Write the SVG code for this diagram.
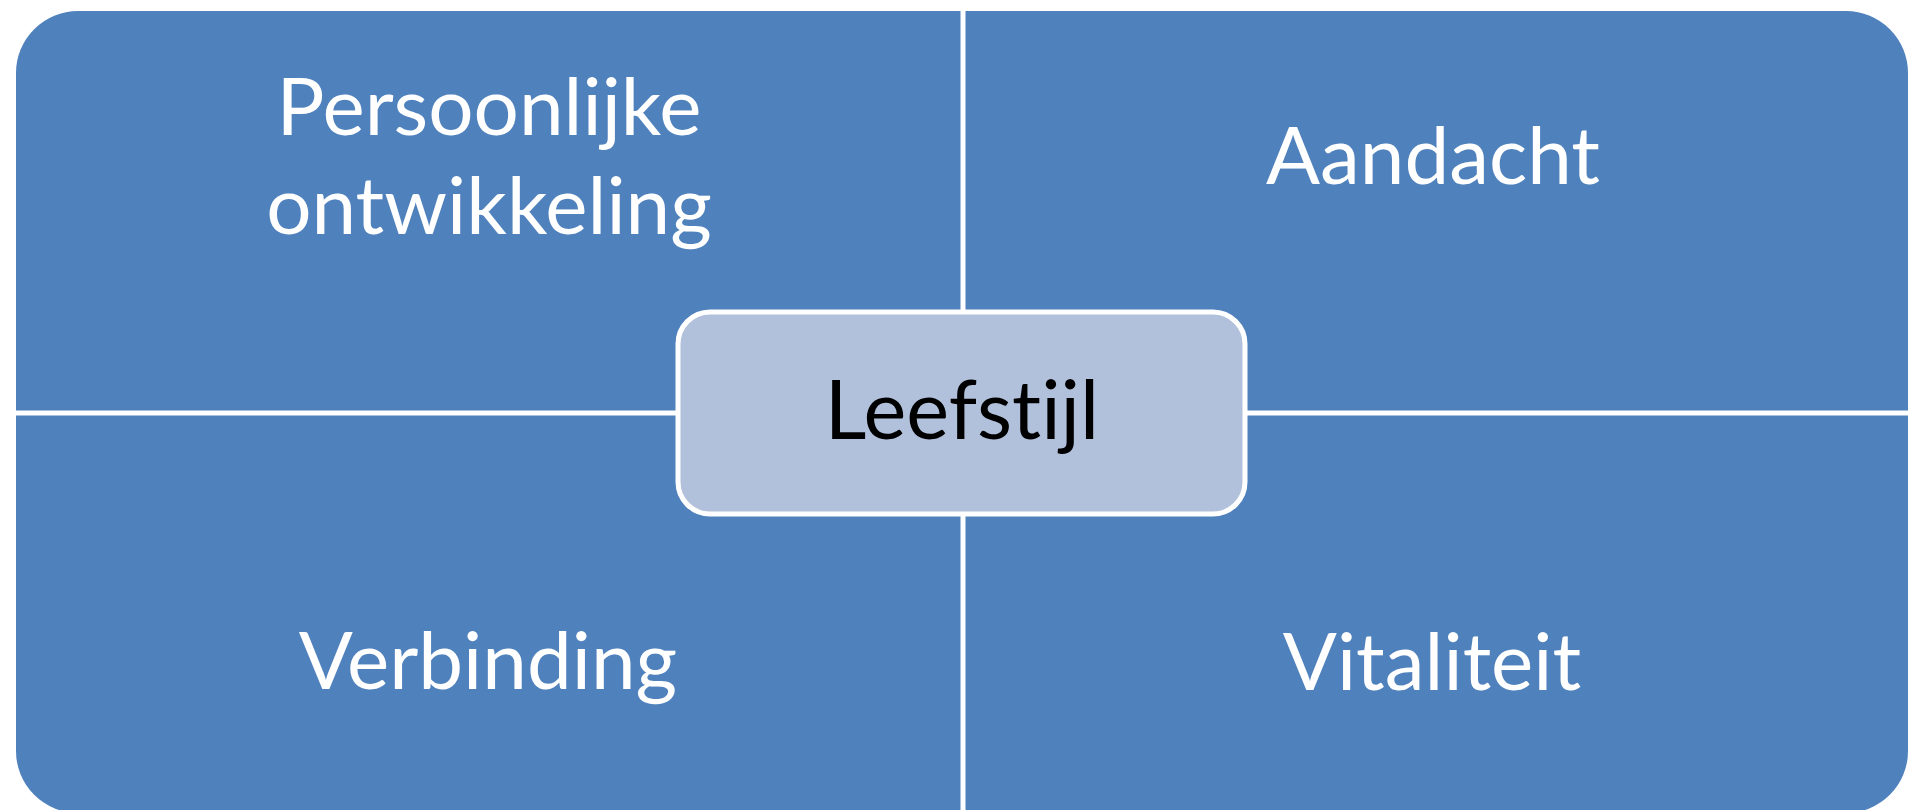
<svg xmlns="http://www.w3.org/2000/svg" width="1912" height="810" viewBox="0 0 1912 810">
<style>
.q{font-family:Lato,"Open Sans","Liberation Sans",sans-serif;font-size:80px;fill:#ffffff;text-anchor:middle;font-variant-ligatures:none;font-feature-settings:"liga" 0,"clig" 0}
.c{font-family:Lato,"Open Sans","Liberation Sans",sans-serif;font-size:81px;fill:#000000;text-anchor:middle;font-variant-ligatures:none;font-feature-settings:"liga" 0,"clig" 0}
.div{stroke:#ffffff;stroke-width:5;fill:none}
</style>
<rect x="0" y="0" width="1912" height="810" fill="#ffffff"/>
<g id="matrix">
<rect x="16" y="11" width="1892" height="802" rx="62" ry="62" fill="#4F81BD"/>
</g>
<g id="connectors">
<line class="div" x1="963" y1="0" x2="963" y2="810"/>
<line class="div" x1="0" y1="413" x2="1912" y2="413"/>
</g>
<g id="node-persoonlijke">
<text class="q" x="489" y="135">Persoonlijke</text>
<text class="q" x="489" y="234">ontwikkeling</text>
</g>
<g id="node-aandacht">
<text class="q" x="1433" y="184">Aandacht</text>
</g>
<g id="node-verbinding">
<text class="q" x="488" y="689">Verbinding</text>
</g>
<g id="node-vitaliteit">
<text class="q" x="1432" y="690">Vitaliteit</text>
</g>
<g id="node-leefstijl">
<rect x="678" y="312" width="567" height="202" rx="32" ry="32" fill="#B2C1DB" stroke="#ffffff" stroke-width="5"/>
<text class="c" x="962" y="439">Leefstijl</text>
</g>
</svg>
